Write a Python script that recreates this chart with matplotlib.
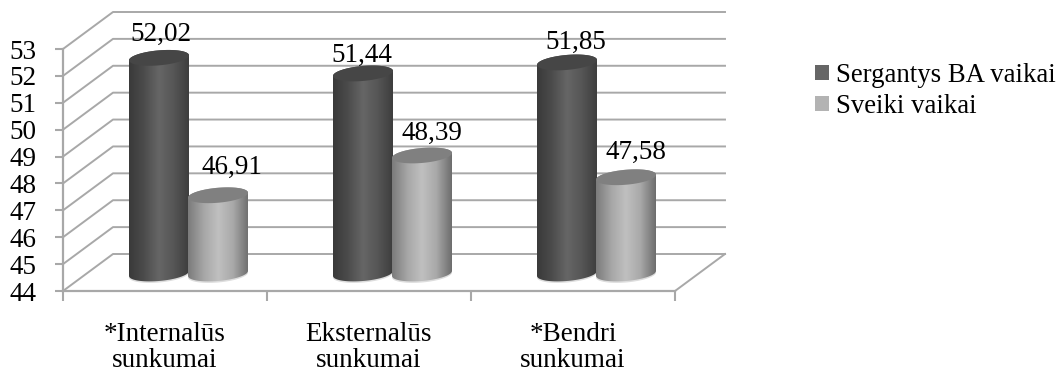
import numpy as np
import matplotlib
matplotlib.use("Agg")
import matplotlib.pyplot as plt
from matplotlib.colors import LinearSegmentedColormap
from matplotlib.patches import Patch, Polygon

plt.rcParams['font.family'] = ['Liberation Serif', 'DejaVu Serif']

categories = ["*Internalūs\nsunkumai", "Eksternalūs\nsunkumai", "*Bendri\nsunkumai"]
series_names = ["Sergantys BA vaikai", "Sveiki vaikai"]
sick = [52.02, 51.44, 51.85]
healthy = [46.91, 48.39, 47.58]
y_ticks = [44, 45, 46, 47, 48, 49, 50, 51, 52, 53]

grid_col = "#a8a8a8"
W, H = 1058, 374

# one pixel in data units
PX = 3 / 612
PY = 9 / 242

fig = plt.figure(figsize=(W / 100, H / 100), dpi=100)
ax = fig.add_axes([63 / W, (H - 291) / H, 612 / W, 242 / H])
ax.set_xlim(0, 3)
ax.set_ylim(44, 53)
ax.patch.set_alpha(0)
ax.set_autoscale_on(False)

# fake 3d walls
dx, dy = 50 * PX, 37 * PY
for t in y_ticks:
    ax.plot([0, dx, 3 + dx], [t, t + dy, t + dy], color=grid_col, lw=1.4, clip_on=False, zorder=1)
ax.plot([3, 3 + dx], [44, 44 + dy], color=grid_col, lw=1.4, clip_on=False, zorder=1)

for s in ["top", "right"]:
    ax.spines[s].set_visible(False)
for s in ["left", "bottom"]:
    ax.spines[s].set_color(grid_col)
    ax.spines[s].set_linewidth(1.6)

ax.set_yticks(y_ticks)
ax.set_xticks([0, 1, 2, 3])
ax.set_xticklabels([])
ax.set_xticks([0.5, 1.5, 2.5], minor=True)
ax.set_xticklabels(categories, minor=True, fontsize=19.5, linespacing=1.1)
ax.tick_params(axis="y", length=6, width=1.5, color=grid_col, labelsize=19.5, pad=13)
ax.tick_params(axis="x", which="major", length=7, width=1.5, color=grid_col)
ax.tick_params(axis="x", which="minor", length=0, pad=22)

dark_cmap = LinearSegmentedColormap.from_list("dark", ["#3a3a3a", "#4c4c4c", "#666666", "#565656", "#3e3e3e"])
light_cmap = LinearSegmentedColormap.from_list("light", ["#7c7c7c", "#a6a6a6", "#c0c0c0", "#a8a8a8", "#6e6e6e"])


def ellipse_pts(cx, cy, t):
    # flattened circle leaning up to the right
    return cx + 30 * PX * np.cos(t), cy + (7.5 * np.sin(t) + 2.5 * np.cos(t)) * PY


def cylinder(cx, value, cmap, top_col, z):
    base = 44 + 17.5 * PY
    top = value + 17.5 * PY
    t_low = np.linspace(np.pi, 2 * np.pi, 40)
    t_up = np.linspace(0, np.pi, 40)
    bx, by = ellipse_pts(cx, base, t_low)
    tx, ty = ellipse_pts(cx, top, t_up)
    pts = np.column_stack([np.r_[bx, tx], np.r_[by, ty]])

    # soft reflection on the floor
    fx, fy = ellipse_pts(cx, base - 1.5 * PY, t_low)
    ax.add_patch(Polygon(np.column_stack([fx, fy]), closed=True, fc="#dddddd", ec="none", zorder=z - 0.5))

    outline = Polygon(pts, closed=True, fc="none", ec="none", zorder=z)
    ax.add_patch(outline)
    grad = np.linspace(0, 1, 64).reshape(1, -1)
    im = ax.imshow(grad, cmap=cmap, aspect="auto", interpolation="bilinear",
                   extent=[cx - 30 * PX, cx + 30 * PX, 44, 53], zorder=z)
    im.set_clip_path(outline)

    all_t = np.linspace(0, 2 * np.pi, 80)
    ex, ey = ellipse_pts(cx, top, all_t)
    ax.add_patch(Polygon(np.column_stack([ex, ey]), closed=True, fc=top_col, ec="none", zorder=z + 0.1))


# label nudges in pixels: (dx from cylinder centre, dy above the top)
sick_nudge = [(2, 23), (-1, 18), (9, 20)]
healthy_nudge = [(14, 28), (10, 22), (10, 25)]

for i in range(3):
    mid = i + 0.5 + 23 * PX
    c_sick = mid - 29 * PX
    c_healthy = mid + 30 * PX
    cylinder(c_sick, sick[i], dark_cmap, "#464646", 3)
    cylinder(c_healthy, healthy[i], light_cmap, "#808080", 4)
    ax.text(c_sick + sick_nudge[i][0] * PX, sick[i] + (17.5 + sick_nudge[i][1]) * PY,
            f"{sick[i]:.2f}".replace(".", ","), ha="center", va="center", fontsize=19.5, zorder=6, clip_on=False)
    ax.text(c_healthy + healthy_nudge[i][0] * PX, healthy[i] + (17.5 + healthy_nudge[i][1]) * PY,
            f"{healthy[i]:.2f}".replace(".", ","), ha="center", va="center", fontsize=19.5, zorder=6, clip_on=False)

handles = [Patch(fc="#666666", ec="none"), Patch(fc="#b3b3b3", ec="none")]
fig.legend(handles, series_names, loc="upper left", bbox_to_anchor=(815 / W, 1 - 63 / H),
           frameon=False, fontsize=19.3, handlelength=0.52, handleheight=0.52,
           handletextpad=0.26, labelspacing=0.22, borderpad=0, borderaxespad=0)

fig.savefig("out.png", dpi=100)
